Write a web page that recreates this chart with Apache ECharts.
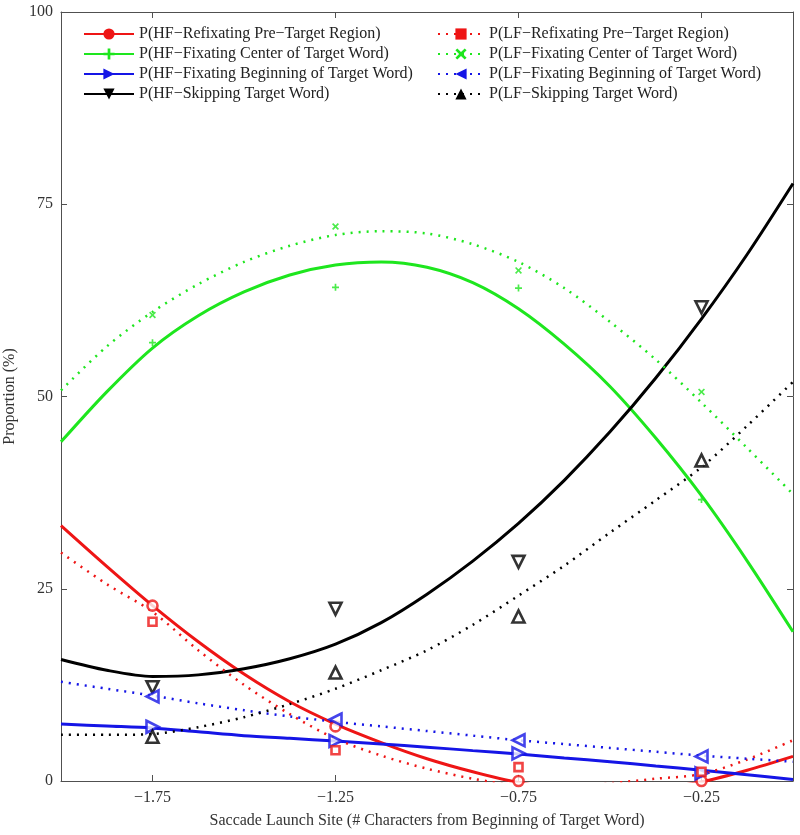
<!DOCTYPE html>
<html>
<head>
<meta charset="utf-8">
<script src="https://cdn.jsdelivr.net/npm/echarts@6/dist/echarts.min.js"></script>
<style>html,body{margin:0;padding:0;background:#fff}#c{width:800px;height:835px}</style>
</head>
<body>
<div id="c"></div>
<script>
// ---- data ----
const curveX = [-2, -1.875, -1.75, -1.625, -1.5, -1.375, -1.25, -1.125, -1.0,
                -0.875, -0.75, -0.625, -0.5, -0.375, -0.25, -0.125, 0];
const markerX = [-1.75, -1.25, -0.75, -0.25];
const xTickValues = [-1.75, -1.25, -0.75, -0.25];
const yTickInterval = 25;

const seriesNames = [
  'P(HF\u2212Refixating Pre\u2212Target Region)',
  'P(HF\u2212Fixating Center of Target Word)',
  'P(HF\u2212Fixating Beginning of Target Word)',
  'P(HF\u2212Skipping Target Word)',
  'P(LF\u2212Refixating Pre\u2212Target Region)',
  'P(LF\u2212Fixating Center of Target Word)',
  'P(LF\u2212Fixating Beginning of Target Word)',
  'P(LF\u2212Skipping Target Word)'
];

// fitted curves (values read at curveX; parts below 0 are hidden by the axis)
const hfRefixCurve  = [33.2, 27.9, 22.8, 18.1, 13.9, 10.3, 7.4, 5.0, 2.9, 1.2, -0.2, -1.0, -1.3, -1.0, -0.1, 1.4, 3.2];
const hfCenterCurve = [44.1, 50.6, 56.3, 60.5, 63.6, 65.8, 67.1, 67.5, 66.8, 64.8, 61.4, 56.8, 51.3, 44.6, 37.1, 28.6, 19.4];
const hfBeginCurve  = [7.4, 7.15, 6.9, 6.4, 5.9, 5.55, 5.2, 4.8, 4.4, 3.95, 3.5, 3.0, 2.5, 1.95, 1.4, 0.8, 0.2];
const hfSkipCurve   = [15.8, 14.4, 13.6, 13.8, 14.6, 15.9, 17.8, 20.6, 24.3, 28.6, 33.5, 39.1, 45.4, 52.4, 60.1, 68.5, 77.7];
const lfRefixCurve  = [29.7, 25.6, 22.0, 17.0, 12.5, 8.7, 5.5, 3.3, 1.6, 0.3, -0.6, -0.8, -0.3, 0.3, 0.9, 2.8, 5.3];
const lfCenterCurve = [50.8, 56.5, 61.0, 64.6, 67.5, 69.6, 71.0, 71.5, 71.2, 69.8, 67.5, 64.1, 59.7, 54.8, 49.2, 43.3, 37.3];
const lfBeginCurve  = [12.9, 12.0, 11.1, 10.1, 9.2, 8.4, 7.7, 7.1, 6.5, 5.9, 5.3, 4.8, 4.3, 3.8, 3.3, 2.9, 2.5];
const lfSkipCurve   = [6.0, 6.0, 6.1, 7.0, 8.3, 10.0, 12.0, 14.4, 17.0, 20.3, 24.1, 28.0, 32.3, 36.5, 40.8, 46.2, 51.9];

// observed data points (at markerX)
const hfRefixPts  = [22.8, 7.1, 0.0, 0.0];
const hfCenterPts = [57.0, 64.2, 64.1, 36.6];
const hfBeginPts  = [7.05, 5.2, 3.6, 1.0];
const hfSkipPts   = [12.2, 22.4, 28.5, 61.6];
const lfRefixPts  = [20.7, 4.0, 1.8, 1.2];
const lfCenterPts = [60.6, 72.1, 66.4, 50.6];
const lfBeginPts  = [11.0, 8.0, 5.3, 3.2];
const lfSkipPts   = [5.75, 14.1, 21.4, 41.7];

// ---- styling ----
const FONT = '"Liberation Serif", "Times New Roman", serif';
const RED = '#ee1515', GREEN = '#1ee61e', BLUE = '#1515e6', BLACK = '#000000';
const AXIS = '#505050';
const SYM = {
  circle: 'circle',
  square: 'rect',
  plus: 'path://M3.8,0H6.2V3.8H10V6.2H6.2V10H3.8V6.2H0V3.8H3.8Z',
  cross: 'path://M1.7,0L5,3.3L8.3,0L10,1.7L6.7,5L10,8.3L8.3,10L5,6.7L1.7,10L0,8.3L3.3,5L0,1.7Z',
  right: 'path://M0,0L9,5L0,10Z',
  left: 'path://M9,0L0,5L9,10Z',
  down: 'path://M0,0L10,0L5,9Z',
  up: 'path://M5,0L10,9L0,9Z'
};

const defs = [
  {curve: hfRefixCurve,  pts: hfRefixPts,  color: RED,   dotted: false, symbol: SYM.circle, size: 10, hollow: true},
  {curve: hfCenterCurve, pts: hfCenterPts, color: GREEN, dotted: false, symbol: SYM.plus,   size: 7,  hollow: false},
  {curve: hfBeginCurve,  pts: hfBeginPts,  color: BLUE,  dotted: false, symbol: SYM.right,  size: 12, hollow: true},
  {curve: hfSkipCurve,   pts: hfSkipPts,   color: BLACK, dotted: false, symbol: SYM.down,   size: 12, hollow: true},
  {curve: lfRefixCurve,  pts: lfRefixPts,  color: RED,   dotted: true,  symbol: SYM.square, size: 8,  hollow: true},
  {curve: lfCenterCurve, pts: lfCenterPts, color: GREEN, dotted: true,  symbol: SYM.cross,  size: 7,  hollow: false},
  {curve: lfBeginCurve,  pts: lfBeginPts,  color: BLUE,  dotted: true,  symbol: SYM.left,   size: 12, hollow: true},
  {curve: lfSkipCurve,   pts: lfSkipPts,   color: BLACK, dotted: true,  symbol: SYM.up,     size: 12, hollow: true}
];

const lineSeries = defs.map((d, i) => ({
  type: 'line',
  name: seriesNames[i],
  data: curveX.map((x, k) => [x, d.curve[k]]),
  smooth: 0.3,
  showSymbol: false,
  symbol: d.symbol,
  symbolSize: d.size,
  color: d.color,
  lineStyle: {color: d.color, width: d.dotted ? 2.5 : 3, type: d.dotted ? [2, 6] : 'solid', cap: 'butt'},
  itemStyle: {color: d.color},
  silent: true,
  z: 2
}));

const pointSeries = defs.map((d, i) => ({
  type: 'scatter',
  name: seriesNames[i],
  data: markerX.map((x, k) => [x, d.pts[k]]),
  symbol: d.symbol,
  symbolSize: d.size,
  clip: false,
  itemStyle: d.hollow
    ? {color: '#ffffff', borderColor: d.color, borderWidth: 2.6}
    : {color: d.color},
  silent: true,
  z: 3
}));

const legendText = {fontFamily: FONT, fontSize: 16, color: '#222'};
const legendCommon = {
  orient: 'vertical', top: 26, itemGap: 4, itemHeight: 14,
  selectedMode: false, padding: 0, textStyle: legendText
};

const axisLineStyle = {color: AXIS, width: 1};

const option = {
  animation: false,
  backgroundColor: '#ffffff',
  grid: {left: 61, right: 7, top: 12, bottom: 54, containLabel: false, outerBoundsMode: 'none'},
  legend: [
    Object.assign({}, legendCommon, {left: 83, itemWidth: 50, data: seriesNames.slice(0, 4)}),
    Object.assign({}, legendCommon, {left: 437, itemWidth: 46, data: seriesNames.slice(4)})
  ],
  xAxis: [
    {
      type: 'value', min: -2, max: 0, position: 'bottom',
      axisLine: {show: true, onZero: false, lineStyle: axisLineStyle},
      axisTick: {show: true, inside: true, length: 6, customValues: xTickValues, lineStyle: axisLineStyle},
      axisLabel: {
        customValues: xTickValues, margin: 9,
        fontFamily: FONT, fontSize: 16, color: '#333',
        formatter: v => String(v).replace('-', '\u2212')
      },
      splitLine: {show: false},
      name: 'Saccade Launch Site (# Characters from Beginning of Target Word)',
      nameLocation: 'middle', nameGap: 32,
      nameTextStyle: {fontFamily: FONT, fontSize: 16, color: '#333'}
    },
    {
      type: 'value', min: -2, max: 0, position: 'top',
      axisLine: {show: true, onZero: false, lineStyle: axisLineStyle},
      axisTick: {show: true, inside: true, length: 6, customValues: xTickValues, lineStyle: axisLineStyle},
      axisLabel: {show: false},
      splitLine: {show: false}
    }
  ],
  yAxis: [
    {
      type: 'value', min: 0, max: 100, interval: yTickInterval, position: 'left',
      axisLine: {show: true, onZero: false, lineStyle: axisLineStyle},
      axisTick: {show: true, inside: true, length: 6, lineStyle: axisLineStyle},
      axisLabel: {margin: 8, fontFamily: FONT, fontSize: 16, color: '#333'},
      splitLine: {show: false},
      name: 'Proportion (%)', nameLocation: 'middle', nameGap: 41, nameRotate: 90,
      nameTextStyle: {fontFamily: FONT, fontSize: 16, color: '#333'}
    },
    {
      type: 'value', min: 0, max: 100, interval: yTickInterval, position: 'right',
      axisLine: {show: true, onZero: false, lineStyle: axisLineStyle},
      axisTick: {show: true, inside: true, length: 6, lineStyle: axisLineStyle},
      axisLabel: {show: false},
      splitLine: {show: false}
    }
  ],
  series: lineSeries.concat(pointSeries)
};

const chart = echarts.init(document.getElementById('c'), null, {renderer: 'canvas'});
chart.setOption(option);
</script>
</body>
</html>
